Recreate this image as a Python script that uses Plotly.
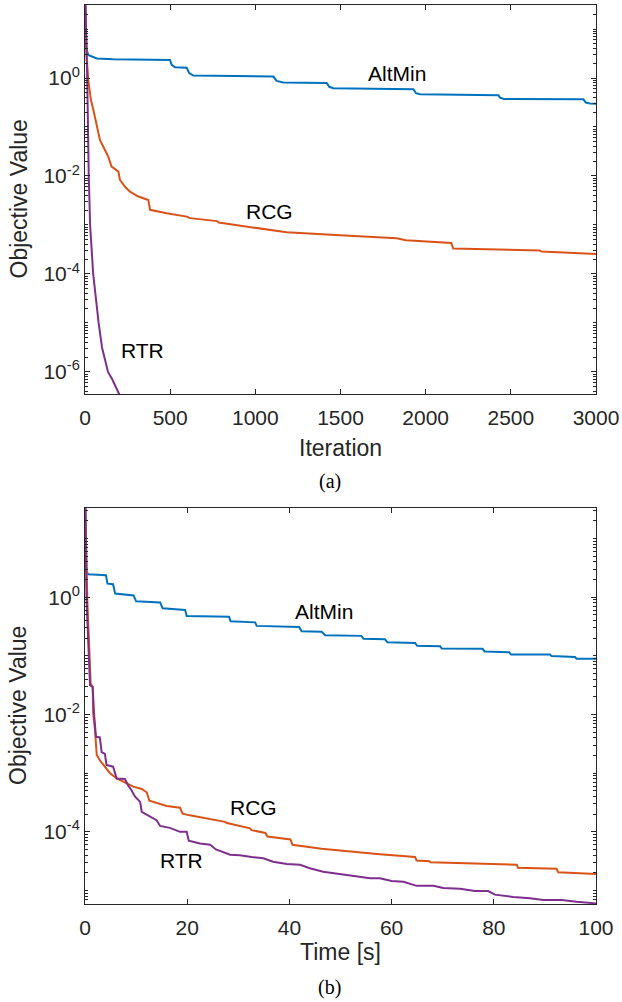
import math
import plotly.graph_objects as go

# ---------------- data: (a) objective vs iteration ----------------
a_altmin_iter = [0, 8, 19, 69, 166, 499, 509, 528, 597, 612, 636, 1000, 1106, 1125, 1164, 1419, 1434, 1458,
                 1928, 1943, 1967, 2427, 2436, 2460, 2926, 2940, 2965, 3000]
a_altmin_val = [63, 4.0, 2.95, 2.51, 2.40, 2.34, 1.86, 1.66, 1.62, 1.26, 1.12, 1.08, 1.07, 0.871, 0.813, 0.794,
                0.661, 0.617, 0.589, 0.490, 0.468, 0.447, 0.398, 0.372, 0.367, 0.316, 0.302, 0.299]

a_rcg_iter = [0, 10, 19, 35, 49, 69, 88, 117, 137, 156, 196, 205, 235, 264, 313, 372, 382, 480, 597, 617,
              775, 785, 969, 1184, 1497, 1830, 1884, 2104, 2150, 2162, 2671, 2680, 3000]
a_rcg_val = [63, 2.69, 0.91, 0.355, 0.224, 0.102, 0.0537, 0.0339, 0.0245, 0.0155, 0.0123, 0.00832, 0.00603,
             0.00479, 0.00380, 0.00324, 0.00204, 0.00174, 0.00148, 0.00138, 0.00120, 0.00112, 9.12e-4,
             7.08e-4, 6.17e-4, 5.37e-4, 4.90e-4, 4.47e-4, 4.27e-4, 3.31e-4, 3.02e-4, 2.88e-4, 2.57e-4]

a_rtr_iter = [0, 13, 22, 30, 48, 62, 80, 100, 135, 160, 200, 240]
a_rtr_val = [63, 1.0, 0.01, 1e-3, 1e-4, 3.16e-5, 1e-5, 3.16e-6, 1e-6, 7.08e-7, 3.55e-7, 1.5e-7]

# ---------------- data: (b) objective vs time ----------------
b_altmin_t = [0, 0.3, 0.65, 4.1, 4.4, 5.5, 5.9, 9.5, 10.0, 14.7, 15.2, 19.6, 19.9, 28.2, 28.5, 33.3, 33.6,
              41.9, 42.4, 46.3, 47.0, 54.1, 54.5, 58.7, 59.2, 64.6, 65.0, 69.5, 69.8, 77.8, 78.2, 83.0, 83.4,
              91.0, 91.3, 95.9, 96.2, 100]
b_altmin_val = [63, 2.69, 2.45, 2.37, 1.70, 1.66, 1.15, 1.07, 0.851, 0.813, 0.646, 0.603, 0.479, 0.462, 0.389,
                0.372, 0.324, 0.309, 0.263, 0.257, 0.224, 0.219, 0.195, 0.191, 0.170, 0.166, 0.148, 0.146,
                0.133, 0.132, 0.119, 0.115, 0.105, 0.105, 0.0989, 0.0955, 0.0891, 0.0891]

b_rcg_t = [0, 0.45, 0.85, 1.1, 1.5, 1.6, 1.96, 2.3, 2.9, 3.9, 4.9, 6.2, 7.8, 9.45, 11.1, 12.1, 12.6, 14.7, 16.0,
           18.6, 19.1, 20.5, 23.8, 27.4, 27.8, 32.3, 32.6, 35.3, 35.7, 40.2, 40.6, 46.3, 57.7, 64.6, 64.9,
           67.4, 67.6, 84.5, 84.7, 92.3, 92.6, 100]
b_rcg_val = [63, 0.891, 0.126, 0.0339, 0.0295, 0.0105, 0.00537, 0.00204, 0.00166, 0.00129, 0.001, 8.13e-4,
             6.92e-4, 5.89e-4, 5.37e-4, 4.68e-4, 3.39e-4, 2.95e-4, 2.75e-4, 2.57e-4, 2.04e-4, 1.91e-4,
             1.70e-4, 1.48e-4, 1.41e-4, 1.15e-4, 1.07e-4, 9.55e-5, 8.32e-5, 7.41e-5, 6.03e-5, 5.13e-5,
             4.17e-5, 3.72e-5, 3.24e-5, 3.16e-5, 3.02e-5, 2.75e-5, 2.45e-5, 2.34e-5, 2.04e-5, 1.91e-5]

b_rtr_t = [0, 0.3, 0.65, 0.98, 1.5, 1.76, 2.15, 2.9, 3.26, 3.9, 4.2, 5.5, 6.2, 7.8, 8.5, 9.1, 9.8, 10.8, 11.1,
           12.1, 14.0, 14.7, 16.6, 18.6, 19.9, 20.3, 22.5, 24.5, 25.6, 28.4, 30.3, 32.6, 34.9, 36.8, 39.5,
           42.1, 44.0, 46.6, 49.3, 53.2, 55.8, 57.7, 60.0, 62.3, 64.9, 68.2, 70.1, 73.4, 76.3, 78.9, 80.2,
           83.8, 87.1, 89.7, 93.3, 96.2, 100]
b_rtr_val = [63, 0.891, 0.162, 0.0316, 0.0295, 0.0105, 0.00417, 0.00407, 0.00229, 0.00214, 0.00138, 0.00129,
             8.13e-4, 7.94e-4, 6.03e-4, 5.13e-4, 3.98e-4, 3.24e-4, 2.19e-4, 1.95e-4, 1.58e-4, 1.26e-4,
             1.17e-4, 1.0e-4, 1.0e-4, 7.08e-5, 6.31e-5, 6.03e-5, 5.01e-5, 4.07e-5, 3.98e-5, 3.72e-5, 3.55e-5,
             3.09e-5, 2.82e-5, 2.75e-5, 2.40e-5, 2.09e-5, 1.95e-5, 1.78e-5, 1.62e-5, 1.62e-5, 1.45e-5,
             1.41e-5, 1.20e-5, 1.20e-5, 1.10e-5, 1.07e-5, 9.77e-6, 9.77e-6, 8.51e-6, 7.76e-6, 7.41e-6,
             6.92e-6, 6.92e-6, 6.46e-6, 6.03e-6]

# tick labels
a_x_ticks = [0, 500, 1000, 1500, 2000, 2500, 3000]
b_x_ticks = [0, 20, 40, 60, 80, 100]
y_tick_exps = [-6, -4, -2, 0]

# curve labels: (text, x, y)
a_labels = [("AltMin", 1832, 1.26), ("RCG", 1086, 1.86e-3), ("RTR", 338, 2.7e-6)]
b_labels = [("AltMin", 46.7, 0.56), ("RCG", 33, 2.57e-4), ("RTR", 18.9, 3.24e-5)]

BLUE = "#0072BD"
ORANGE = "#D95319"
PURPLE = "#7E2F8E"
AX = "#262626"
FONT = "Liberation Sans, Arial, Helvetica, sans-serif"
SERIF = "Liberation Serif, Times New Roman, serif"

fig = go.Figure()
for xs, ys, c in [(a_altmin_iter, a_altmin_val, BLUE), (a_rcg_iter, a_rcg_val, ORANGE),
                  (a_rtr_iter, a_rtr_val, PURPLE)]:
    fig.add_trace(go.Scatter(x=xs, y=ys, mode="lines", line=dict(color=c, width=2),
                             xaxis="x", yaxis="y", showlegend=False, hoverinfo="skip"))
for xs, ys, c in [(b_altmin_t, b_altmin_val, BLUE), (b_rcg_t, b_rcg_val, ORANGE),
                  (b_rtr_t, b_rtr_val, PURPLE)]:
    fig.add_trace(go.Scatter(x=xs, y=ys, mode="lines", line=dict(color=c, width=2),
                             xaxis="x2", yaxis="y2", showlegend=False, hoverinfo="skip"))

minor_vals = [k * 10.0 ** n for n in range(-8, 3) for k in range(1, 10)
              if not (k == 1 and n in y_tick_exps)]


def xax(domain, anchor, ticks):
    return dict(domain=domain, anchor=anchor, range=[ticks[0], ticks[-1]], tickvals=ticks,
                ticktext=[str(t) for t in ticks], ticks="inside", ticklen=5, tickwidth=1, tickcolor=AX,
                showline=True, linecolor=AX, linewidth=1, mirror="ticks", showgrid=False, zeroline=False,
                tickfont=dict(family=FONT, size=21, color=AX), automargin=False, ticklabelstandoff=5)


def yax(domain, anchor, rng):
    return dict(domain=domain, anchor=anchor, type="log", range=rng,
                tickvals=[10.0 ** e for e in y_tick_exps],
                ticktext=["10<sup>%d</sup>" % e for e in y_tick_exps],
                ticks="inside", ticklen=5, tickwidth=1, tickcolor=AX,
                minor=dict(tickvals=minor_vals, ticks="inside", ticklen=3, tickcolor=AX, tickwidth=1,
                           showgrid=False),
                showline=True, linecolor=AX, linewidth=1, mirror="ticks", showgrid=False, zeroline=False,
                tickfont=dict(family=FONT, size=21, color=AX), automargin=False, ticklabelstandoff=0)


xd = [85 / 622, 596 / 622]
fig.update_layout(
    width=622, height=1002, margin=dict(l=0, r=0, t=0, b=0), autosize=False,
    paper_bgcolor="white", plot_bgcolor="white", hovermode=False,
    xaxis=xax(xd, "y", a_x_ticks),
    yaxis=yax([1 - 394 / 1002, 1 - 5 / 1002], "x", [-6.45, 1.49]),
    xaxis2=xax(xd, "y2", b_x_ticks),
    yaxis2=yax([1 - 904 / 1002, 1 - 508 / 1002], "x2", [-5.23, 1.52]),
)

ann = []
for text, x, y in a_labels:
    ann.append(dict(text=text, x=x, y=math.log10(y), xref="x", yref="y", showarrow=False,
                    font=dict(family=FONT, size=21, color="black")))
for text, x, y in b_labels:
    ann.append(dict(text=text, x=x, y=math.log10(y), xref="x2", yref="y2", showarrow=False,
                    font=dict(family=FONT, size=21, color="black")))
title_font = dict(family=FONT, size=23, color=AX)
ann += [
    dict(text="Iteration", x=340.5 / 622, y=1 - 448 / 1002, xref="paper", yref="paper", showarrow=False,
         font=title_font, yanchor="middle"),
    dict(text="Time [s]", x=340.5 / 622, y=1 - 952 / 1002, xref="paper", yref="paper", showarrow=False,
         font=title_font, yanchor="middle"),
    dict(text="Objective Value", x=18 / 622, y=1 - 199.5 / 1002, xref="paper", yref="paper",
         showarrow=False, font=title_font, textangle=-90, yanchor="middle", xanchor="center"),
    dict(text="Objective Value", x=18 / 622, y=1 - 706 / 1002, xref="paper", yref="paper",
         showarrow=False, font=title_font, textangle=-90, yanchor="middle", xanchor="center"),
    dict(text="(a)", x=330 / 622, y=1 - 481 / 1002, xref="paper", yref="paper", showarrow=False,
         font=dict(family=SERIF, size=20, color="black"), yanchor="middle"),
    dict(text="(b)", x=329 / 622, y=1 - 987 / 1002, xref="paper", yref="paper", showarrow=False,
         font=dict(family=SERIF, size=20, color="black"), yanchor="middle"),
]
fig.update_layout(annotations=ann)

fig.write_html("out.html", config={"displayModeBar": False},
               post_script="document.body.style.margin='0';document.body.style.overflow='hidden';")
